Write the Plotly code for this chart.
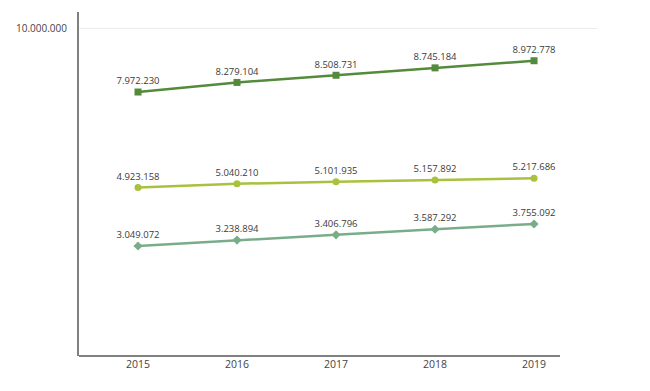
import plotly.graph_objects as go

years = [2015, 2016, 2017, 2018, 2019]
series_top = [7972230, 8279104, 8508731, 8745184, 8972778]
series_mid = [4923158, 5040210, 5101935, 5157892, 5217686]
series_low = [3049072, 3238894, 3406796, 3587292, 3755092]

def fmt(v):
    return f"{v:,}".replace(",", ".")

W, H = 650, 391
# page body has an 8px margin, so figure coordinates = screen - 8
left, right, top, bottom = 71, 589, 4, 348

fig = go.Figure()
specs = [
    (series_top, "#548a3c", "square"),
    (series_mid, "#a8c23e", "circle"),
    (series_low, "#79ad8a", "diamond"),
]
for vals, col, sym in specs:
    fig.add_trace(go.Scatter(
        x=years, y=vals, mode="lines+markers+text",
        line=dict(color=col, width=2.5),
        marker=dict(color=col, size=7, symbol=sym),
        text=[fmt(v) for v in vals], textposition="top center",
        textfont=dict(family="Open Sans", size=9.5, color="#3a3a3a"),
        cliponaxis=False, showlegend=False,
    ))

fig.update_layout(
    width=W, height=H,
    margin=dict(l=left, r=W - right, t=top, b=H - bottom),
    paper_bgcolor="white", plot_bgcolor="white",
    xaxis=dict(range=[2014.404, 2019.636], tickmode="array", tickvals=years,
               ticktext=[str(y) for y in years], showgrid=False, zeroline=False,
               showline=False, ticks="",
               tickfont=dict(family="Open Sans", size=10.5, color="#444444")),
    yaxis=dict(range=[-467000, 10531000], tickmode="array", tickvals=[10000000],
               ticktext=["10.000.000"], showgrid=True, gridcolor="#ececec", gridwidth=1,
               zeroline=False, showline=True, linecolor="#808080", linewidth=2, ticks="",
               ticklabelstandoff=8,
               tickfont=dict(family="Open Sans", size=10, color="#444444")),
)
# x-axis baseline (shorter than plot area, as in the reference)
fig.add_shape(type="line", xref="paper", yref="paper",
              x0=0, x1=(552 - left) / (right - left), y0=0, y1=0,
              line=dict(color="#808080", width=2))

fig.write_html("out.html")
